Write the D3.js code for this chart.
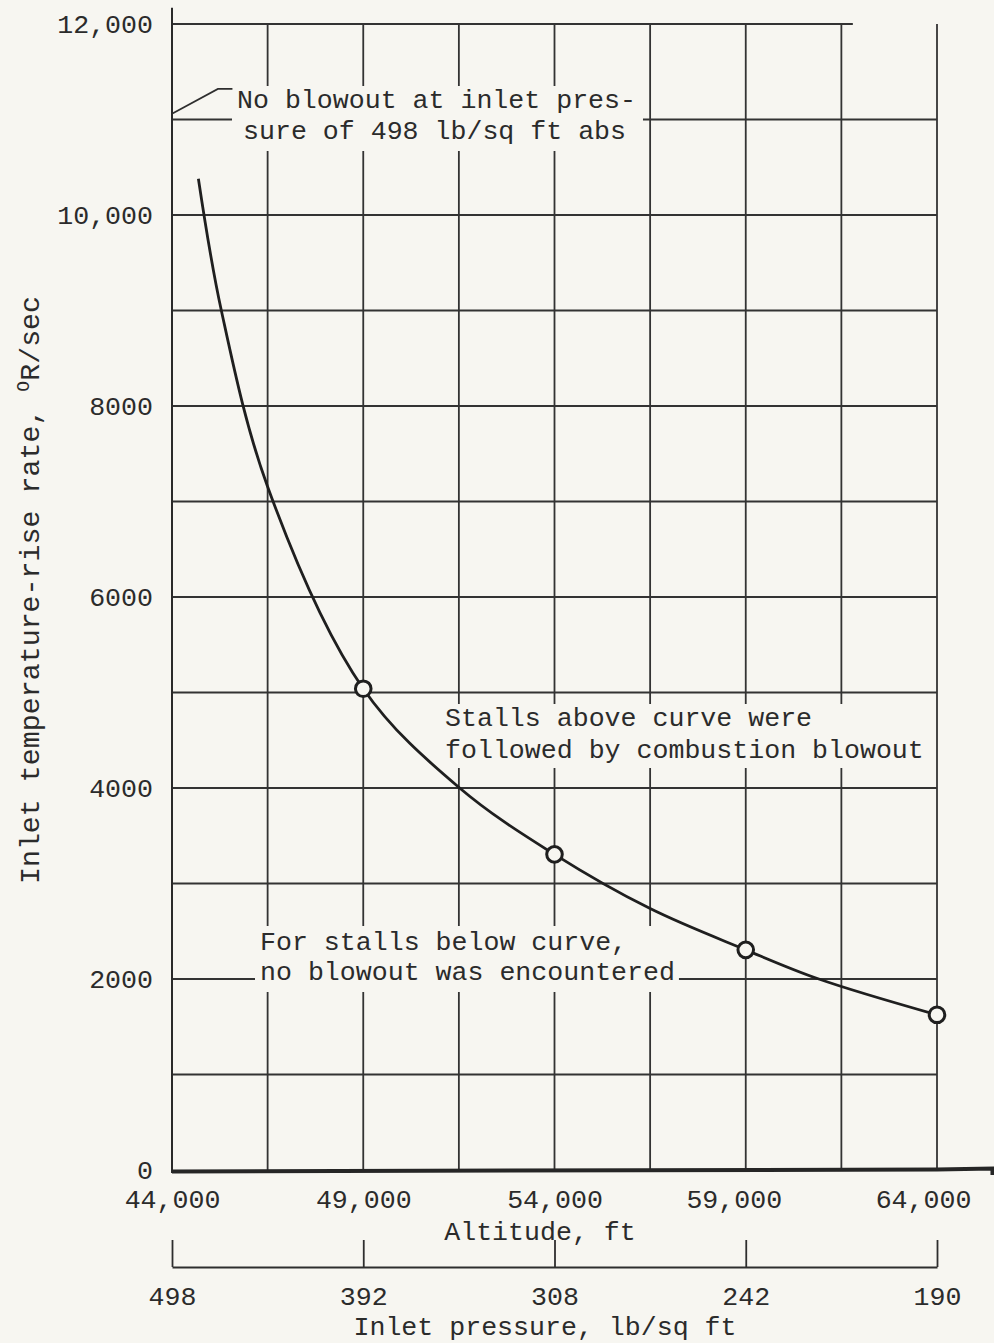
<!DOCTYPE html>
<html>
<head>
<meta charset="utf-8">
<script src="https://cdn.jsdelivr.net/npm/d3@7"></script>
<style>
  html, body { margin: 0; padding: 0; background: #f7f6f1; }
  svg { display: block; }
  text { font-family: "Liberation Mono", "Courier New", monospace; fill: #2b2b2b; }
</style>
</head>
<body>
<svg id="chart" width="994" height="1343"></svg>
<script>
// ---- Data ----
// Curve: altitude (ft) vs inlet temperature-rise rate (deg R/sec)
const curveAltitude = [44690, 45290, 46500, 49000, 51520, 54000, 56500, 59000, 60910, 64000];
const curveRate     = [10380, 9000, 7155, 5040, 4000, 3305, 2737, 2305, 2000, 1625];
// Test points (circles)
const pointAltitude = [49000, 54000, 59000, 64000];
const pointRate     = [5040, 3305, 2305, 1625];
// Axes
const altitudeTicks  = [44000, 49000, 54000, 59000, 64000];
const altitudeLabels = ["44,000", "49,000", "54,000", "59,000", "64,000"];
const pressureLabels = ["498", "392", "308", "242", "190"];
const rateTicks  = [0, 2000, 4000, 6000, 8000, 10000, 12000];
const rateLabels = ["0", "2000", "4000", "6000", "8000", "10,000", "12,000"];
const altitudeGrid = [44000, 46500, 49000, 51500, 54000, 56500, 59000, 61500, 64000];
const rateGrid = [0, 1000, 2000, 3000, 4000, 5000, 6000, 7000, 8000, 9000, 10000, 11000, 12000];

// ---- Setup ----
const svg = d3.select("#chart");
const x = d3.scaleLinear().domain([44000, 64000]).range([172, 937]);
const y = d3.scaleLinear().domain([0, 12000]).range([1170, 24]);
const ink = "#2e2e2e";
const bg = "#f7f6f1";
const FS = 26.6;
const labelNudge = [0, 0, 0, -12, -14];

svg.append("rect").attr("width", 994).attr("height", 1343).attr("fill", bg);

// ---- Grid ----
const grid = svg.append("g").attr("stroke", "#333").attr("stroke-width", 1.8);
grid.selectAll("line.v").data(altitudeGrid.slice(1)).join("line")
  .attr("x1", d => x(d)).attr("x2", d => x(d))
  .attr("y1", y(12000)).attr("y2", y(0));
grid.selectAll("line.h").data(rateGrid.slice(1)).join("line")
  .attr("x1", x(44000))
  .attr("x2", d => d === 12000 ? x(61800) : x(64000))
  .attr("y1", d => y(d)).attr("y2", d => y(d));
svg.append("line").attr("x1", x(44000)).attr("x2", x(44000))
  .attr("y1", y(12170)).attr("y2", y(0) + 3)
  .attr("stroke", "#2a2a2a").attr("stroke-width", 2);

// ---- Annotations with masking boxes ----
function note(lines, xs, baseY, lineH, pad) {
  const g = svg.append("g");
  const r = g.append("rect").attr("fill", bg);
  const t = g.append("text").attr("font-size", FS);
  lines.forEach((s, i) => {
    t.append("tspan").attr("x", xs[i]).attr("y", baseY + i * lineH).text(s);
  });
  const b = t.node().getBBox();
  r.attr("x", b.x - pad[0]).attr("y", b.y - pad[1])
   .attr("width", b.width + pad[0] + pad[2]).attr("height", b.height + pad[1] + pad[3]);
  return g;
}
note(["No blowout at inlet pres-", "sure of 498 lb/sq ft abs"],
     [237, 243], 108, 31, [5, 0, 7, 4]);
note(["Stalls above curve were", "followed by combustion blowout"],
     [445, 445], 726, 32, [5, 0, 5, 2]);
note(["For stalls below curve,", "no blowout was encountered"],
     [260, 260], 950, 30, [5, 2, 4, 4]);

svg.append("path")
  .attr("d", d3.line()([[x(44000), y(11060)], [x(45200), y(11320)], [x(45580), y(11320)]]))
  .attr("fill", "none").attr("stroke", ink).attr("stroke-width", 1.7);

// ---- Baseline (0) thick ----
svg.append("path")
  .attr("d", d3.line()([[x(44000), y(0) + 1.5], [x(64000), y(0) - 0.5], [x(65450), y(0) - 1.5], [x(65450), y(0) + 5]]))
  .attr("fill", "none").attr("stroke", "#262626").attr("stroke-width", 4);

// ---- Curve ----
const curveData = curveAltitude.map((a, i) => [a, curveRate[i]]);
svg.append("path")
  .datum(curveData)
  .attr("d", d3.line().x(d => x(d[0])).y(d => y(d[1])).curve(d3.curveCatmullRom.alpha(0.5)))
  .attr("fill", "none").attr("stroke", "#1f1f1f").attr("stroke-width", 2.8);

svg.selectAll("circle.pt").data(pointAltitude.map((a, i) => [a, pointRate[i]])).join("circle")
  .attr("cx", d => x(d[0])).attr("cy", d => y(d[1])).attr("r", 7.8)
  .attr("fill", bg).attr("stroke", "#1f1f1f").attr("stroke-width", 3);

// ---- Y axis labels ----
const yAxis = d3.axisLeft(y).tickValues(rateTicks)
  .tickFormat((d, i) => rateLabels[i]).tickSize(0).tickPadding(19);
const gy = svg.append("g").attr("transform", `translate(${x(44000)},0)`).call(yAxis);
gy.select(".domain").remove();
gy.selectAll("text").attr("font-size", FS).attr("font-family", "Liberation Mono, monospace").attr("fill", "#2b2b2b");

// Y title
const yt = svg.append("text")
  .attr("transform", "translate(39,590) rotate(-90)")
  .attr("text-anchor", "middle").attr("font-size", 28.3);
yt.append("tspan").text("Inlet temperature-rise rate, ");
yt.append("tspan").attr("font-size", 18).attr("dy", -10).text("O");
yt.append("tspan").attr("dy", 10).text("R/sec");

// ---- X axis (altitude) ----
const xAxis = d3.axisBottom(x).tickValues(altitudeTicks)
  .tickFormat((d, i) => altitudeLabels[i]).tickSize(0).tickPadding(19);
const gx = svg.append("g").attr("transform", `translate(0,${y(0)})`).call(xAxis);
gx.select(".domain").remove();
gx.selectAll("text").attr("font-size", FS).attr("font-family", "Liberation Mono, monospace").attr("fill", "#2b2b2b")
  .attr("dx", (d, i) => labelNudge[i]);

svg.append("text").attr("x", 540).attr("y", 1240).attr("text-anchor", "middle")
  .attr("font-size", FS).text("Altitude, ft");

// ---- Pressure axis ----
const pAxis = d3.axisBottom(x).tickValues(altitudeTicks)
  .tickFormat((d, i) => pressureLabels[i]).tickSizeInner(-27).tickSizeOuter(0).tickPadding(19);
const gp = svg.append("g").attr("transform", "translate(0,1267)").call(pAxis);
gp.select(".domain").attr("stroke", "#2e2e2e").attr("stroke-width", 2);
gp.selectAll(".tick line").attr("stroke", "#2e2e2e").attr("stroke-width", 1.8);
gp.selectAll("text").attr("font-size", FS).attr("font-family", "Liberation Mono, monospace").attr("fill", "#2b2b2b");

svg.append("text").attr("x", 545).attr("y", 1335).attr("text-anchor", "middle")
  .attr("font-size", FS).text("Inlet pressure, lb/sq ft");
</script>
</body>
</html>
